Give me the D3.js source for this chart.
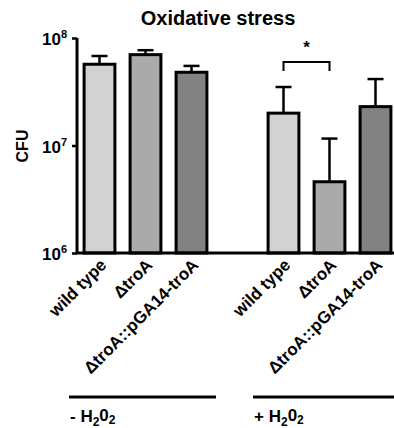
<!DOCTYPE html>
<html>
<head>
<meta charset="utf-8">
<script src="https://d3js.org/d3.v7.min.js"></script>
<style>
    body { margin: 0; background: white; }
    text { font-family: "Liberation Sans", Arial, sans-serif; font-weight: bold; }
</style>
</head>
<body>
<script>

// Data
const strains = ["wild type", "ΔtroA", "ΔtroA::pGA14-troA"];
const treatments = ["-", "+"];
const meanNoH2O2 = [5.7e7, 7.0e7, 4.8e7];
const errNoH2O2 = [1.1e7, 0.7e7, 0.7e7];
const meanH2O2 = [2.0e7, 4.6e6, 2.3e7];
const errH2O2 = [1.5e7, 0.7e7, 1.85e7];
const yTicks = [1e6, 1e7, 1e8];
const fills = ["#d2d2d2", "#aaaaaa", "#828282"];

// Build rows; slot 3 is the empty gap between groups
const rows = [];
strains.forEach((s, i) => rows.push({ key: "-" + i, strain: s, mean: meanNoH2O2[i], err: errNoH2O2[i], idx: i }));
strains.forEach((s, i) => rows.push({ key: "+" + i, strain: s, mean: meanH2O2[i], err: errH2O2[i], idx: i }));
const slots = ["-0", "-1", "-2", "gap", "+0", "+1", "+2"];

// Create SVG
const width = 394, height = 428;
const svg = d3.select('body')
    .append('svg')
    .attr('width', width)
    .attr('height', height);

// Scales
const x = d3.scaleBand()
    .domain(slots)
    .range([76.5, 398.5])
    .paddingInner(0.33)
    .paddingOuter(0.165);

const y = d3.scaleLog()
    .domain([1e6, 1e8])
    .range([253, 38]);

// Title
svg.append("text")
    .attr("x", 218)
    .attr("y", 25)
    .attr("text-anchor", "middle")
    .attr("font-size", "20px")
    .text("Oxidative stress");

// Y axis
const yAxis = svg.append("g")
    .attr("transform", "translate(77,0)")
    .call(d3.axisLeft(y).tickValues(yTicks).tickSize(5).tickFormat(""));
yAxis.select(".domain").attr("stroke", "black").attr("stroke-width", 3).attr("d", `M0,${y(1e8)}V${y(1e6)}`);
yAxis.selectAll(".tick line").attr("stroke-width", 2.5);

// Tick labels as 10 with a superscript exponent
yAxis.selectAll(".tick").append("text")
    .attr("x", -10)
    .attr("y", 0)
    .attr("dy", "0.4em")
    .attr("text-anchor", "end")
    .attr("fill", "black")
    .attr("font-size", "17px")
    .each(function (d) {
        const t = d3.select(this);
        t.append("tspan").text("10");
        t.append("tspan").attr("font-size", "11px").attr("dy", "-0.65em").text(Math.round(Math.log10(d)));
    });

// Y label
svg.append("text")
    .attr("transform", "translate(28,146) rotate(-90)")
    .attr("text-anchor", "middle")
    .attr("font-size", "16px")
    .text("CFU");

// Error bars (upper only)
const err = svg.append("g").attr("stroke", "black").attr("stroke-width", 2.5);
rows.forEach(d => {
    const cx = x(d.key) + x.bandwidth() / 2;
    err.append("line")
        .attr("x1", cx).attr("x2", cx)
        .attr("y1", y(d.mean)).attr("y2", y(d.mean + d.err));
    err.append("line")
        .attr("x1", cx - 8).attr("x2", cx + 8)
        .attr("y1", y(d.mean + d.err)).attr("y2", y(d.mean + d.err));
});

// Bars
svg.append("g")
    .selectAll("rect")
    .data(rows)
    .join("rect")
    .attr("x", d => x(d.key))
    .attr("y", d => y(d.mean))
    .attr("width", x.bandwidth())
    .attr("height", d => y(1e6) - y(d.mean))
    .attr("fill", d => fills[d.idx])
    .attr("stroke", "black")
    .attr("stroke-width", 3);

// X axis baseline
svg.append("line")
    .attr("x1", 76).attr("x2", width)
    .attr("y1", y(1e6)).attr("y2", y(1e6))
    .attr("stroke", "black")
    .attr("stroke-width", 3);

// Rotated strain labels
svg.append("g")
    .selectAll("text")
    .data(rows)
    .join("text")
    .attr("transform", d => `translate(${x(d.key) + x.bandwidth() / 2 + 8},${y(1e6) + 13}) rotate(-45)`)
    .attr("text-anchor", "end")
    .attr("font-size", "17px")
    .text(d => d.strain);

// Significance bracket between wild type and ΔtroA with H2O2
const bx1 = x("+0") + x.bandwidth() / 2, bx2 = x("+1") + x.bandwidth() / 2;
svg.append("path")
    .attr("d", `M${bx1},71V62H${bx2}V71`)
    .attr("fill", "none")
    .attr("stroke", "black")
    .attr("stroke-width", 2);
svg.append("text")
    .attr("x", (bx1 + bx2) / 2)
    .attr("y", 53)
    .attr("text-anchor", "middle")
    .attr("font-size", "17px")
    .text("*");

// Treatment group lines and labels
const groups = [
    { label: treatments[0], x1: 69, x2: 216, tx: 70 },
    { label: treatments[1], x1: 253, x2: width, tx: 254 }
];
groups.forEach(g => {
    svg.append("line")
        .attr("x1", g.x1).attr("x2", g.x2)
        .attr("y1", 397).attr("y2", 397)
        .attr("stroke", "black")
        .attr("stroke-width", 3);
    const t = svg.append("text")
        .attr("x", g.tx)
        .attr("y", 422)
        .attr("font-size", "17px");
    t.append("tspan").text(g.label + " H");
    t.append("tspan").attr("font-size", "12px").attr("dy", "0.3em").text("2");
    t.append("tspan").attr("dy", "-0.3em").text("0");
    t.append("tspan").attr("font-size", "12px").attr("dy", "0.3em").text("2");
});

</script>
</body>
</html>
